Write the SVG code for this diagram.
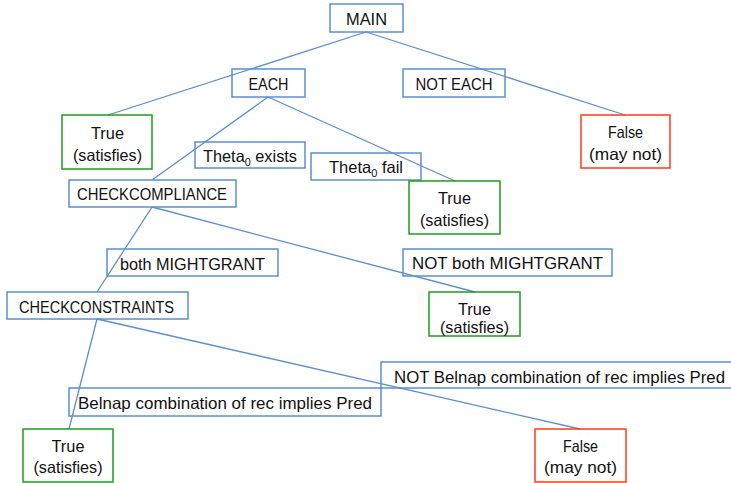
<svg xmlns="http://www.w3.org/2000/svg" width="731" height="483" viewBox="0 0 731 483">
  <style>
    text { font-family: "Liberation Sans", Arial, sans-serif; font-size: 16.5px; fill: #111; text-anchor: middle; }
    .sub { font-size: 11px; }
    .edge { stroke: #5b8fcf; stroke-width: 1.3; fill: none; }
    .blue { fill: none; stroke: #5b8fcf; stroke-width: 1.5; }
    .green { fill: none; stroke: #1f9a1f; stroke-width: 1.5; }
    .red { fill: none; stroke: #ff3b1a; stroke-width: 1.5; }
  </style>
  <rect width="731" height="483" fill="#ffffff"/>

  <!-- connectors -->
  <g id="connectors">
    <line class="edge" x1="366" y1="32" x2="108" y2="115"/>
    <line class="edge" x1="366" y1="32" x2="625" y2="115"/>
    <line class="edge" x1="268" y1="97" x2="152" y2="180"/>
    <line class="edge" x1="268" y1="97" x2="455" y2="181"/>
    <line class="edge" x1="152" y1="207" x2="97" y2="292"/>
    <line class="edge" x1="152" y1="207" x2="475" y2="292"/>
    <line class="edge" x1="97" y1="319" x2="69" y2="429"/>
    <line class="edge" x1="97" y1="319" x2="580" y2="429"/>
  </g>

  <g id="main">
    <rect class="blue" x="330" y="4" width="73" height="28"/>
    <text x="366.5" y="25" textLength="41" lengthAdjust="spacingAndGlyphs">MAIN</text>
  </g>
  <g id="each">
    <rect class="blue" x="232" y="69" width="73" height="28"/>
    <text x="268.5" y="90" textLength="40" lengthAdjust="spacingAndGlyphs">EACH</text>
  </g>
  <g id="not-each">
    <rect class="blue" x="403" y="69" width="102" height="28"/>
    <text x="454" y="90" textLength="77" lengthAdjust="spacingAndGlyphs">NOT EACH</text>
  </g>
  <g id="true-1">
    <rect class="green" x="62" y="115" width="90" height="54"/>
    <text x="107.5" y="139" textLength="33" lengthAdjust="spacingAndGlyphs">True</text>
    <text x="107.5" y="161" textLength="69" lengthAdjust="spacingAndGlyphs">(satisfies)</text>
  </g>
  <g id="false-1">
    <rect class="red" x="581" y="115" width="89" height="53"/>
    <text x="625.5" y="138" textLength="35" lengthAdjust="spacingAndGlyphs">False</text>
    <text x="625.5" y="160" textLength="73" lengthAdjust="spacingAndGlyphs">(may not)</text>
  </g>
  <g id="theta-exists">
    <rect class="blue" x="195" y="142" width="110" height="26"/>
    <text x="250" y="162" textLength="94" lengthAdjust="spacingAndGlyphs">Theta<tspan class="sub" dy="4">0</tspan><tspan dy="-4"> exists</tspan></text>
  </g>
  <g id="theta-fail">
    <rect class="blue" x="311" y="153" width="110" height="27"/>
    <text x="366" y="173" textLength="74" lengthAdjust="spacingAndGlyphs">Theta<tspan class="sub" dy="4">0</tspan><tspan dy="-4"> fail</tspan></text>
  </g>
  <g id="checkcompliance">
    <rect class="blue" x="69" y="180" width="167" height="27"/>
    <text x="152" y="200" textLength="150" lengthAdjust="spacingAndGlyphs">CHECKCOMPLIANCE</text>
  </g>
  <g id="true-2">
    <rect class="green" x="409" y="181" width="91" height="53"/>
    <text x="454.5" y="204" textLength="33" lengthAdjust="spacingAndGlyphs">True</text>
    <text x="454.5" y="226" textLength="69" lengthAdjust="spacingAndGlyphs">(satisfies)</text>
  </g>
  <g id="both-mightgrant">
    <rect class="blue" x="107" y="249" width="171" height="27"/>
    <text x="192.5" y="269.5" textLength="145" lengthAdjust="spacingAndGlyphs">both MIGHTGRANT</text>
  </g>
  <g id="not-both-mightgrant">
    <rect class="blue" x="403" y="249" width="209" height="27"/>
    <text x="507.5" y="269" textLength="191" lengthAdjust="spacingAndGlyphs">NOT both MIGHTGRANT</text>
  </g>
  <g id="checkconstraints">
    <rect class="blue" x="7" y="292" width="181" height="27"/>
    <text x="96.5" y="312.5" textLength="155" lengthAdjust="spacingAndGlyphs">CHECKCONSTRAINTS</text>
  </g>
  <g id="true-3">
    <rect class="green" x="429" y="292" width="91" height="44"/>
    <text x="474.5" y="315" textLength="33" lengthAdjust="spacingAndGlyphs">True</text>
    <text x="474.5" y="333" textLength="69" lengthAdjust="spacingAndGlyphs">(satisfies)</text>
  </g>
  <g id="not-belnap">
    <rect class="blue" x="381" y="362" width="352" height="26"/>
    <text x="559.5" y="383" textLength="331" lengthAdjust="spacingAndGlyphs">NOT Belnap combination of rec implies Pred</text>
  </g>
  <g id="belnap">
    <rect class="blue" x="69" y="388" width="312" height="28"/>
    <text x="225" y="409" textLength="294" lengthAdjust="spacingAndGlyphs">Belnap combination of rec implies Pred</text>
  </g>
  <g id="true-4">
    <rect class="green" x="23" y="429" width="90" height="53"/>
    <text x="68" y="452" textLength="33" lengthAdjust="spacingAndGlyphs">True</text>
    <text x="68" y="473" textLength="69" lengthAdjust="spacingAndGlyphs">(satisfies)</text>
  </g>
  <g id="false-2">
    <rect class="red" x="535" y="429" width="91" height="53"/>
    <text x="580.5" y="452" textLength="35" lengthAdjust="spacingAndGlyphs">False</text>
    <text x="580.5" y="473" textLength="73" lengthAdjust="spacingAndGlyphs">(may not)</text>
  </g>
</svg>
